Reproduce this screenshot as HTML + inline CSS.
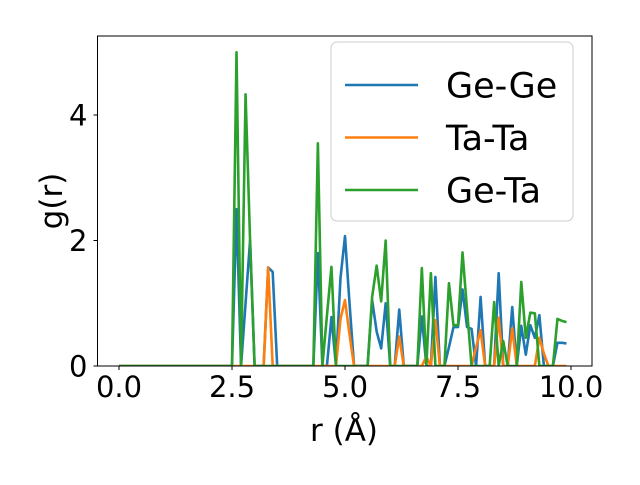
<!DOCTYPE html>
<html><head><meta charset="utf-8"><style>
body{margin:0;background:#fff}
svg text{font-family:"DejaVu Sans","Liberation Sans",sans-serif;fill:#000}
</style></head><body>
<svg width="640" height="480" viewBox="0 0 640 480">
<rect width="640" height="480" fill="#fff"/>
<g id="plot"></g>
<g id="axes"></g>
<g id="legend"></g>
</svg>
<script>
const xTicks=[0.0,2.5,5.0,7.5,10.0];
const xTickLabels=["0.0","2.5","5.0","7.5","10.0"];
const yTicks=[0,2,4];
const yTickLabels=["0","2","4"];
const seriesNames=["Ge-Ge","Ta-Ta","Ge-Ta"];
const rStep=0.1;
const geGe=[0,0,0,0,0,0,0,0,0,0,0,0,0,0,0,0,0,0,0,0,0,0,0,0,0,0,2.5,0,1.0,2.0,0,0,0,1.57,1.5,0,0,0,0,0,0,0,0,0,1.8,0,0,0.78,0,1.4,2.07,1.0,0,0,0,0,1.05,0.55,0.28,1.0,0,0,0.9,0,0,0,0,0.79,0,0,1.42,0,0,0.3,0.62,0.62,1.22,0.62,0.59,0,1.1,0,0,0,1.48,0,0,0.94,0,0.64,0.18,0.65,0.45,0.81,0,0,0,0.37,0.37,0.36];
const taTa=[0,0,0,0,0,0,0,0,0,0,0,0,0,0,0,0,0,0,0,0,0,0,0,0,0,0,0,0,0,0,0,0,0,1.57,0,0,0,0,0,0,0,0,0,0,0,0,0,0,0,0.75,1.05,0.5,0,0,0,0,0,0,0,0,0,0,0.47,0,0,0,0,0,0.15,0,0.73,0,0,0,0,0,0,0,0,0.3,0.57,0,0,0,0.77,0,0,0.6,0,0,0,0,0,0.45,0.2,0,0,0,0,0];
const geTa=[0,0,0,0,0,0,0,0,0,0,0,0,0,0,0,0,0,0,0,0,0,0,0,0,0,0,5.0,0,4.33,2.0,0,0,0,0,0,0,0,0,0,0,0,0,0,0,3.55,0,0.8,1.58,0,0,0,0,0,0,0,0,1.1,1.6,1.03,2.0,0,0,0,0,0,0,0,1.56,0,1.48,0,0,0,1.32,0.65,0.65,1.81,0.9,0,0,0,0,0,1.02,0,0.4,0,0,0,1.34,0.45,0.85,0.84,0,0,0,0,0.75,0.72,0.7];
const colors=["#1f77b4","#ff7f0e","#2ca02c"];
const NS="http://www.w3.org/2000/svg";
const L=97.5,R=592,T=36,B=366;
function xs(v){return 119+v*45.2;}
function ys(v){return 366-v*62.75;}
function mk(tag,attrs,parent){const e=document.createElementNS(NS,tag);for(const k in attrs)e.setAttribute(k,attrs[k]);parent.appendChild(e);return e;}
const plot=document.getElementById('plot'),axes=document.getElementById('axes'),leg=document.getElementById('legend');
const cp=mk('clipPath',{id:'cp'},plot);mk('rect',{x:L,y:T,width:R-L,height:B-T},cp);
[geGe,taTa,geTa].forEach((s,k)=>{
  const pts=s.map((v,i)=>xs(i*rStep).toFixed(2)+","+ys(v).toFixed(2)).join(" ");
  const p=mk('polyline',{points:pts,fill:'none',stroke:colors[k],'stroke-width':2.6,'stroke-linejoin':'round','clip-path':'url(#cp)'},plot);
  
  
});
const fr=mk('rect',{x:L,y:T,width:R-L,height:B-T,fill:'none',stroke:'#000','stroke-width':1},axes);


xTicks.forEach((v,i)=>{
  const x=xs(v);
  const t=mk('line',{x1:x,x2:x,y1:B,y2:B+4,stroke:'#000','stroke-width':1},axes);
  
  
  const tx=mk('text',{x:x,y:B+31,'text-anchor':'middle','font-size':29},axes);tx.textContent=xTickLabels[i];
  
  
});
yTicks.forEach((v,i)=>{
  const y=ys(v);
  const t=mk('line',{x1:L-4,x2:L,y1:y,y2:y,stroke:'#000','stroke-width':1},axes);
  
  
  const tx=mk('text',{x:L-10,y:y+10.5,'text-anchor':'end','font-size':29},axes);tx.textContent=yTickLabels[i];
  
  
});
const xl=mk('text',{x:344,y:441,'text-anchor':'middle','font-size':31},axes);xl.textContent="r (Å)";


const yl=mk('text',{x:0,y:0,'text-anchor':'middle','font-size':31,transform:'translate(62,201) rotate(-90)'},axes);yl.textContent="g(r)";


const lb=mk('rect',{x:331,y:42,width:242,height:179,rx:6,fill:'#fff','fill-opacity':0.8,stroke:'#ccc','stroke-width':1},leg);


seriesNames.forEach((n,k)=>{
  const y=85+k*52.5;
  const ln=mk('line',{x1:345,x2:418,y1:y,y2:y,stroke:colors[k],'stroke-width':2.6},leg);
  
  
  const t=mk('text',{x:446,y:y+12.5,'font-size':35},leg);t.textContent=n;
  
  
});
</script>
</body></html>
